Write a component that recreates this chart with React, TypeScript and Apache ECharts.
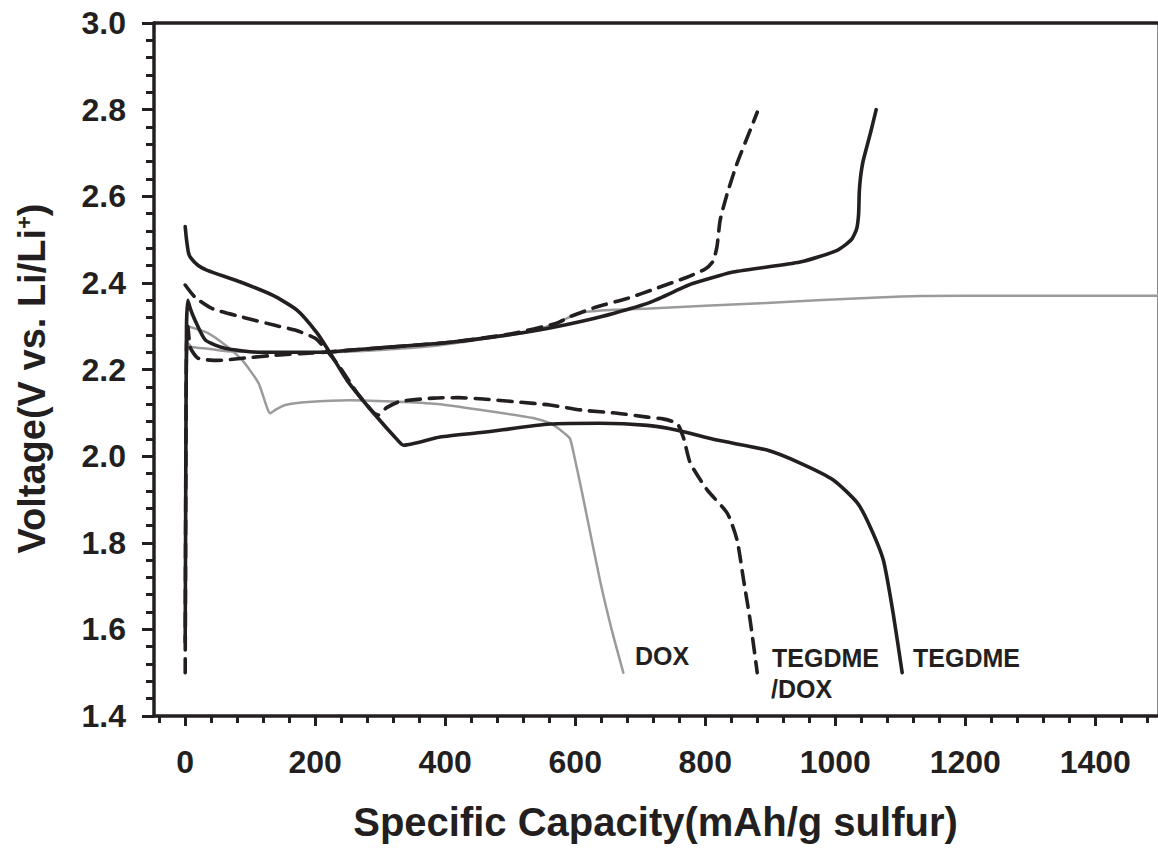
import React, { useEffect, useRef } from "react";
import * as echarts from "echarts";

// ---- data (x: specific capacity mAh/g, y: voltage V) ----
const xMajorTicks = [0, 200, 400, 600, 800, 1000, 1200, 1400];
const xMinorTicks = [-40, 40, 80, 120, 160, 240, 280, 320, 360, 440, 480, 520, 560, 640, 680, 720, 760, 840, 880, 920, 960, 1040, 1080, 1120, 1160, 1240, 1280, 1320, 1360, 1440, 1480];
const yMajorTicks = [1.4, 1.6, 1.8, 2.0, 2.2, 2.4, 2.6, 2.8, 3.0];
const yMinorTicks = [1.44, 1.48, 1.52, 1.56, 1.64, 1.68, 1.72, 1.76, 1.84, 1.88, 1.92, 1.96, 2.04, 2.08, 2.12, 2.16, 2.24, 2.28, 2.32, 2.36, 2.44, 2.48, 2.52, 2.56, 2.64, 2.68, 2.72, 2.76, 2.84, 2.88, 2.92, 2.96];

const doxDischarge = [
  [3, 2.3], [8, 2.298], [35, 2.284], [62, 2.256], [88, 2.221], [113, 2.168], [131, 2.099], [140, 2.108],
  [154, 2.118], [189, 2.125], [254, 2.129], [335, 2.125], [392, 2.12], [458, 2.106], [535, 2.088],
  [561, 2.076], [572, 2.066], [584, 2.052], [592, 2.04], [600, 1.99], [612, 1.905], [638, 1.714], [656, 1.6], [674, 1.5],
];
const doxCharge = [
  [2, 2.2], [5, 2.26], [10, 2.252], [35, 2.248], [64, 2.242], [150, 2.24], [218, 2.24], [300, 2.245],
  [392, 2.256], [480, 2.275], [526, 2.286], [561, 2.302], [612, 2.332], [660, 2.338], [715, 2.341],
  [885, 2.353], [1074, 2.367], [1200, 2.37], [1495, 2.37],
];
const tegdmeDischarge = [
  [0, 2.53], [2, 2.5], [5, 2.47], [8, 2.459], [20, 2.44], [34, 2.429], [85, 2.402], [135, 2.371],
  [172, 2.337], [203, 2.284], [223, 2.238], [249, 2.175], [290, 2.099], [331, 2.03], [336, 2.025],
  [392, 2.044], [458, 2.055], [561, 2.074], [638, 2.076], [711, 2.071], [757, 2.06], [818, 2.037],
  [895, 2.014], [946, 1.984], [997, 1.945], [1034, 1.892], [1054, 1.836], [1074, 1.76], [1089, 1.638], [1103, 1.5],
];
const tegdmeCharge = [
  [0, 1.57], [1, 2.0], [2, 2.3], [4, 2.36], [8, 2.34], [15, 2.314], [31, 2.268], [61, 2.249],
  [112, 2.24], [215, 2.24], [254, 2.245], [300, 2.25], [408, 2.263], [511, 2.283], [561, 2.296],
  [612, 2.312], [660, 2.33], [715, 2.355], [767, 2.39], [782, 2.399], [843, 2.425], [946, 2.448],
  [1003, 2.475], [1025, 2.5], [1033, 2.525], [1036, 2.56], [1037, 2.61], [1039, 2.645], [1043, 2.682],
  [1054, 2.745], [1063, 2.8],
];
const mixDischarge = [
  [0, 2.395], [15, 2.367], [41, 2.341], [88, 2.321], [138, 2.302], [169, 2.291], [200, 2.272],
  [215, 2.249], [238, 2.205], [265, 2.145], [290, 2.1], [297, 2.095], [310, 2.112], [330, 2.126],
  [382, 2.134], [420, 2.135], [458, 2.132], [511, 2.125], [561, 2.118], [612, 2.106], [665, 2.099],
  [711, 2.09], [735, 2.086], [757, 2.075], [767, 2.04], [777, 1.984], [803, 1.922], [834, 1.868],
  [849, 1.806], [859, 1.714], [869, 1.622], [880, 1.5],
];
const mixCharge = [
  [0, 1.5], [1, 2.0], [2, 2.25], [4, 2.3], [8, 2.25], [20, 2.226], [51, 2.221], [88, 2.226],
  [138, 2.233], [215, 2.24], [300, 2.25], [408, 2.263], [500, 2.282], [572, 2.307], [592, 2.322],
  [634, 2.345], [680, 2.364], [726, 2.388], [772, 2.413], [800, 2.432], [812, 2.45], [818, 2.483], [823, 2.545],
  [834, 2.607], [849, 2.676], [869, 2.752], [880, 2.794],
];

const FONT = "'Liberation Sans', Arial, Helvetica, sans-serif";
const INK = "#231f20";
const GRAY = "#9b9b9b";

export default function App() {
  const ref = useRef<HTMLDivElement>(null);
  useEffect(() => {
    if (!ref.current) return;
    const chart = echarts.init(ref.current, null, { renderer: "svg" });
    const xRange = { min: -48, max: 1495 };
    const yRange = { min: 1.4, max: 3.0 };
    const hiddenLabel = { show: false };
    const base = { type: "line", showSymbol: false, symbol: "none", smooth: 0.2 };
    const solid = (name: string, data: number[][]) => ({
      ...base, name, data,
      lineStyle: { color: INK, width: 3.6, cap: "round", join: "round" },
    });
    const dashed = (name: string, data: number[][]) => ({
      ...base, name, data,
      lineStyle: { color: INK, width: 3.6, type: [14, 9], cap: "round", join: "round" },
    });
    const gray = (name: string, data: number[][]) => ({
      ...base, name, data,
      lineStyle: { color: GRAY, width: 2.5, cap: "round", join: "round" },
    });
    chart.setOption({
      animation: false,
      backgroundColor: "#ffffff",
      grid: { left: 154, right: 1, top: 23, bottom: 134, containLabel: false },
      xAxis: [
        {
          type: "value", ...xRange, position: "bottom",
          name: "Specific Capacity(mAh/g sulfur)", nameLocation: "middle", nameGap: 86,
          nameTextStyle: { fontSize: 40, fontWeight: "bold", fontFamily: FONT, color: INK },
          axisLine: { show: true, onZero: false, lineStyle: { color: INK, width: 3.5 } },
          axisTick: { show: true, customValues: xMajorTicks, length: 10, lineStyle: { color: INK, width: 3 } },
          axisLabel: { customValues: xMajorTicks, margin: 30, fontSize: 32, fontWeight: "bold", fontFamily: FONT, color: INK, formatter: (v: number) => String(Math.round(v)) },
          splitLine: { show: false },
        },
        {
          type: "value", ...xRange, position: "bottom",
          axisLine: { show: false, onZero: false },
          axisTick: { show: true, customValues: xMinorTicks, length: 7, lineStyle: { color: INK, width: 3 } },
          axisLabel: hiddenLabel, splitLine: { show: false },
        },
        {
          type: "value", ...xRange, position: "top",
          axisLine: { show: true, onZero: false, lineStyle: { color: INK, width: 3.5 } },
          axisTick: { show: false }, axisLabel: hiddenLabel, splitLine: { show: false },
        },
      ],
      yAxis: [
        {
          type: "value", ...yRange, position: "left",
          name: "Voltage(V vs. Li/Li{sup|+})", nameLocation: "middle", nameGap: 103,
          nameTextStyle: {
            fontSize: 38, fontWeight: "bold", fontFamily: FONT, color: INK, padding: [0, 18, 0, 0],
            rich: { sup: { fontSize: 22, fontWeight: "bold", fontFamily: FONT, color: INK, verticalAlign: "top" } },
          },
          axisLine: { show: true, onZero: false, lineStyle: { color: INK, width: 3.5 } },
          axisTick: { show: true, customValues: yMajorTicks, length: 12, lineStyle: { color: INK, width: 3 } },
          axisLabel: { customValues: yMajorTicks, margin: 28, fontSize: 32, fontWeight: "bold", fontFamily: FONT, color: INK, formatter: (v: number) => v.toFixed(1) },
          splitLine: { show: false },
        },
        {
          type: "value", ...yRange, position: "left",
          axisLine: { show: false, onZero: false },
          axisTick: { show: true, customValues: yMinorTicks, length: 8, lineStyle: { color: INK, width: 3 } },
          axisLabel: hiddenLabel, splitLine: { show: false },
        },
        {
          type: "value", ...yRange, position: "right",
          axisLine: { show: true, onZero: false, lineStyle: { color: "#8a8a8a", width: 1 } },
          axisTick: { show: false }, axisLabel: hiddenLabel, splitLine: { show: false },
        },
      ],
      series: [
        gray("DOX charge", doxCharge),
        gray("DOX discharge", doxDischarge),
        dashed("TEGDME/DOX charge", mixCharge),
        dashed("TEGDME/DOX discharge", mixDischarge),
        solid("TEGDME charge", tegdmeCharge),
        solid("TEGDME discharge", tegdmeDischarge),
      ],
      graphic: [
        { type: "text", x: 635, y: 656, style: { text: "DOX", font: `bold 25px ${FONT}`, fill: INK, align: "left", verticalAlign: "middle" } },
        { type: "text", x: 772, y: 658, style: { text: "TEGDME", font: `bold 25px ${FONT}`, fill: INK, align: "left", verticalAlign: "middle" } },
        { type: "text", x: 771, y: 689, style: { text: "/DOX", font: `bold 25px ${FONT}`, fill: INK, align: "left", verticalAlign: "middle" } },
        { type: "text", x: 913, y: 658, style: { text: "TEGDME", font: `bold 25px ${FONT}`, fill: INK, align: "left", verticalAlign: "middle" } },
      ],
    });
    return () => chart.dispose();
  }, []);
  return <div ref={ref} style={{ position: "absolute", left: 0, top: 0, width: 1158, height: 850 }} />;
}
